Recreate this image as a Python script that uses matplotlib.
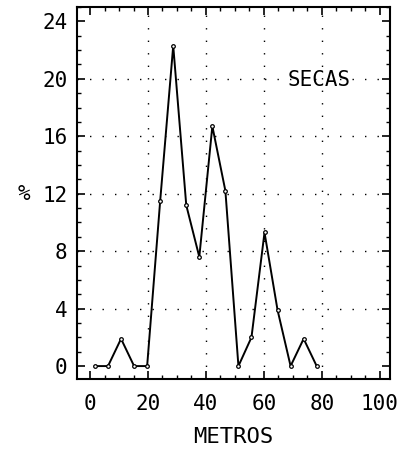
import matplotlib
matplotlib.use("Agg")
import matplotlib.pyplot as plt
from matplotlib.ticker import MultipleLocator

metros = [1.7, 6.2, 10.7, 15.2, 19.7, 24.2, 28.7, 33.2, 37.7, 42.2, 46.7, 51.2,
          55.7, 60.2, 64.7, 69.2, 73.7, 78.2]
pct = [0, 0, 1.9, 0, 0, 11.5, 22.3, 11.2, 7.6, 16.7, 12.2, 0,
       2.0, 9.3, 3.9, 0, 1.9, 0]
xticks = [0, 20, 40, 60, 80, 100]
yticks = [0, 4, 8, 12, 16, 20, 24]

plt.rcParams['font.family'] = ['DejaVu Sans Mono', 'DejaVu Sans']

fig = plt.figure(figsize=(4.18, 4.65), dpi=100)
ax = fig.add_axes([77/418, 1 - 379/465, (390-77)/418, (379-7)/465])

ax.set_xlim(-4.5, 103.5)
ax.set_ylim(-0.9, 25.0)

# sparse dotted grid on inner major lines
dots = dict(color='black', lw=1.0, linestyle=(0, (1, 8)), zorder=1)
ax.hlines(yticks[1:-1], -4.5, 103.5, **dots)
ax.vlines(xticks[1:-1], -0.9, 25.0, **dots)

ax.plot(metros, pct, color='black', lw=1.4, marker='o', ms=2.6,
        mfc='white', mec='black', mew=0.9, zorder=3)

ax.set_xticks(xticks)
ax.set_yticks(yticks)
ax.xaxis.set_minor_locator(MultipleLocator(5))
ax.yaxis.set_minor_locator(MultipleLocator(1))
ax.tick_params(which='both', direction='in', top=True, right=True, color='black')
ax.tick_params(which='major', length=6, width=1.2, labelsize=15, pad=11)
ax.tick_params(axis='y', which='major', pad=7)
ax.tick_params(which='minor', length=3, width=1)
for s in ax.spines.values():
    s.set_linewidth(1.5)
    s.set_color('black')

ax.set_xlabel('METROS', fontsize=16, labelpad=9)
ax.set_ylabel('%', fontsize=15, rotation=0, va='center', ha='center')
ax.yaxis.set_label_coords(-0.17, (12 + 0.9) / 25.9)
ax.text(79.0, 19.9, 'SECAS', fontsize=15, ha='center', va='center')

fig.savefig('out.png', dpi=100)
